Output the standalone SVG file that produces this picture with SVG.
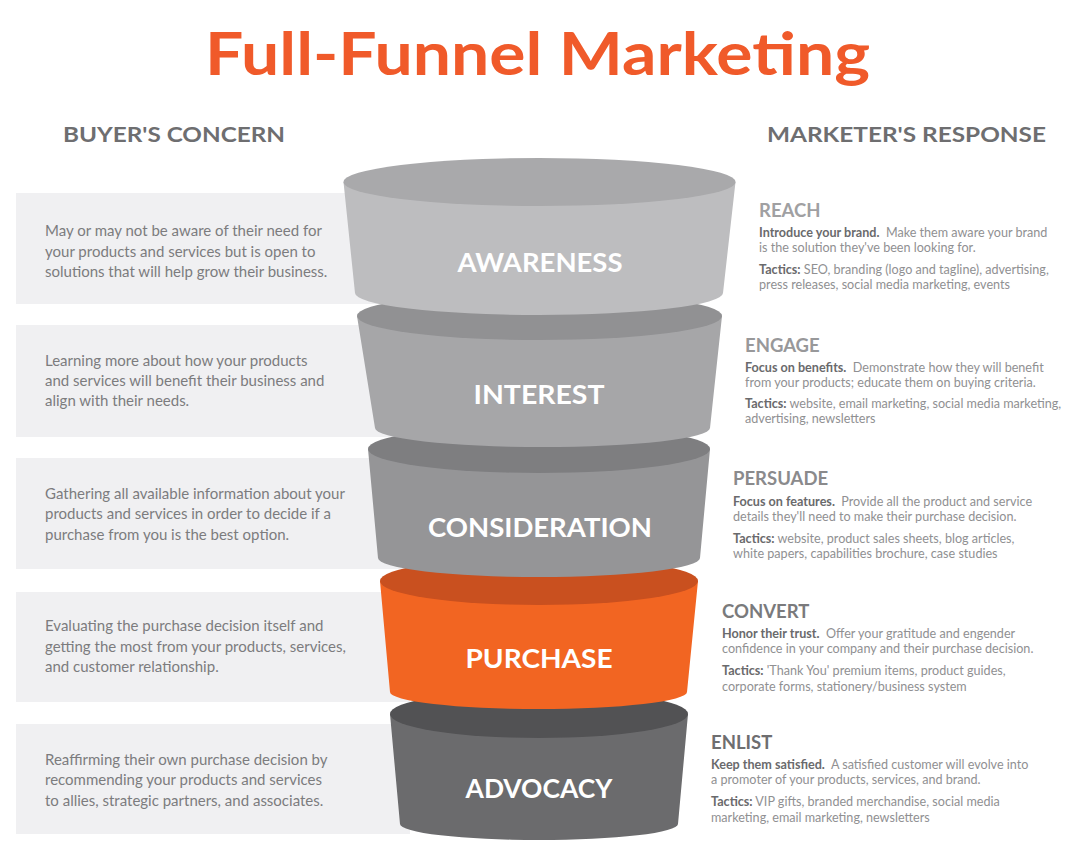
<svg xmlns="http://www.w3.org/2000/svg" width="1080" height="856" viewBox="0 0 1080 856">
<style>
.bg{fill:#ffffff}
.box{fill:#f0f0f2}
.title{font-family:Lato,"Open Sans",sans-serif;font-weight:700;font-size:60px;fill:#f05a2a}
.hdr{font-family:Lato,"Open Sans",sans-serif;font-weight:700;font-size:21px;fill:#6e6e70}
.lt{font-family:Lato,"Open Sans",sans-serif;font-size:15px;fill:#7c7c7e}
.lab{font-family:Lato,"Open Sans",sans-serif;font-weight:700;font-size:26px;fill:#ffffff;text-anchor:middle}
.rh{font-family:Lato,"Open Sans",sans-serif;font-weight:700;font-size:18.5px}
.rt{font-family:Lato,"Open Sans",sans-serif;font-size:12.6px;fill:#909092}
.b{font-weight:700;fill:#6a6a6c}
</style>
<rect class="bg" x="0" y="0" width="1080" height="856"/>
<text class="title" x="205" y="75" textLength="665" lengthAdjust="spacingAndGlyphs">Full-Funnel Marketing</text>
<text class="hdr" x="63" y="142" textLength="222" lengthAdjust="spacingAndGlyphs">BUYER'S CONCERN</text>
<text class="hdr" x="767" y="142" textLength="279" lengthAdjust="spacingAndGlyphs">MARKETER'S RESPONSE</text>

<g id="concern-awareness">
<rect class="box" x="16" y="193" width="394" height="111"/>
<text class="lt" x="45" y="236">May or may not be aware of their need for</text>
<text class="lt" x="45" y="257">your products and services but is open to</text>
<text class="lt" x="45" y="277">solutions that will help grow their business.</text>
</g>
<g id="concern-interest">
<rect class="box" x="16" y="325" width="394" height="112"/>
<text class="lt" x="45" y="366">Learning more about how your products</text>
<text class="lt" x="45" y="386">and services will benefit their business and</text>
<text class="lt" x="45" y="406">align with their needs.</text>
</g>
<g id="concern-consideration">
<rect class="box" x="16" y="458" width="394" height="111"/>
<text class="lt" x="45" y="499">Gathering all available information about your</text>
<text class="lt" x="45" y="519">products and services in order to decide if a</text>
<text class="lt" x="45" y="540">purchase from you is the best option.</text>
</g>
<g id="concern-purchase">
<rect class="box" x="16" y="592" width="394" height="110"/>
<text class="lt" x="45" y="631">Evaluating the purchase decision itself and</text>
<text class="lt" x="45" y="652">getting the most from your products, services,</text>
<text class="lt" x="45" y="672">and customer relationship.</text>
</g>
<g id="concern-advocacy">
<rect class="box" x="16" y="724" width="394" height="110"/>
<text class="lt" x="45" y="765">Reaffirming their own purchase decision by</text>
<text class="lt" x="45" y="785">recommending your products and services</text>
<text class="lt" x="45" y="806">to allies, strategic partners, and associates.</text>
</g>

<g id="connectors"></g>

<g id="funnel-advocacy">
<path d="M390 714 L400 824 A139 16 0 0 0 678 824 L688 714 Z" fill="#6b6b6d"/>
<ellipse cx="539" cy="714" rx="149" ry="24" fill="#525254"/>
<text class="lab" x="539" y="798" textLength="147" lengthAdjust="spacingAndGlyphs">ADVOCACY</text>
</g>
<g id="funnel-purchase">
<path d="M380 581 L390 692 A148.5 17 0 0 0 687 692 L698 581 Z" fill="#f26522"/>
<ellipse cx="539" cy="581" rx="159" ry="24" fill="#c9501f"/>
<text class="lab" x="539" y="668" textLength="147" lengthAdjust="spacingAndGlyphs">PURCHASE</text>
</g>
<g id="funnel-consideration">
<path d="M368 449 L378 558 A161 19 0 0 0 700 558 L710 449 Z" fill="#959597"/>
<ellipse cx="539" cy="449" rx="171" ry="24" fill="#7e7e80"/>
<text class="lab" x="540" y="537" textLength="224" lengthAdjust="spacingAndGlyphs">CONSIDERATION</text>
</g>
<g id="funnel-interest">
<path d="M357 316 L375 428 A167.5 19 0 0 0 710 428 L722 316 Z" fill="#a6a6a8"/>
<ellipse cx="539.5" cy="316" rx="182.5" ry="24" fill="#919193"/>
<text class="lab" x="539" y="404" textLength="131" lengthAdjust="spacingAndGlyphs">INTEREST</text>
</g>
<g id="funnel-awareness">
<path d="M343.5 182 L355 293 A184 22 0 0 0 723 293 L735.5 182 Z" fill="#bdbdbf"/>
<ellipse cx="539.5" cy="182" rx="196" ry="24" fill="#a9a9ab"/>
<text class="lab" x="540" y="272" textLength="165" lengthAdjust="spacingAndGlyphs">AWARENESS</text>
</g>

<g id="response-reach">
<text class="rh" x="759" y="217" fill="#a0a0a2">REACH</text>
<text class="rt" x="759" y="237"><tspan class="b">Introduce your brand.</tspan>&#160; Make them aware your brand</text>
<text class="rt" x="759" y="252">is the solution they've been looking for.</text>
<text class="rt" x="759" y="274"><tspan class="b">Tactics:</tspan> SEO, branding (logo and tagline), advertising,</text>
<text class="rt" x="759" y="289">press releases, social media marketing, events</text>
</g>
<g id="response-engage">
<text class="rh" x="745" y="352" fill="#98989a">ENGAGE</text>
<text class="rt" x="745" y="372"><tspan class="b">Focus on benefits.</tspan>&#160; Demonstrate how they will benefit</text>
<text class="rt" x="745" y="387">from your products; educate them on buying criteria.</text>
<text class="rt" x="745" y="408"><tspan class="b">Tactics:</tspan> website, email marketing, social media marketing,</text>
<text class="rt" x="745" y="423">advertising, newsletters</text>
</g>
<g id="response-persuade">
<text class="rh" x="733" y="485" fill="#8a8a8c">PERSUADE</text>
<text class="rt" x="733" y="506"><tspan class="b">Focus on features.</tspan>&#160; Provide all the product and service</text>
<text class="rt" x="733" y="521">details they'll need to make their purchase decision.</text>
<text class="rt" x="733" y="543"><tspan class="b">Tactics:</tspan> website, product sales sheets, blog articles,</text>
<text class="rt" x="733" y="558">white papers, capabilities brochure, case studies</text>
</g>
<g id="response-convert">
<text class="rh" x="722" y="618" fill="#7a7a7c">CONVERT</text>
<text class="rt" x="722" y="638"><tspan class="b">Honor their trust.</tspan>&#160; Offer your gratitude and engender</text>
<text class="rt" x="722" y="653">confidence in your company and their purchase decision.</text>
<text class="rt" x="722" y="675"><tspan class="b">Tactics:</tspan> 'Thank You' premium items, product guides,</text>
<text class="rt" x="722" y="691">corporate forms, stationery/business system</text>
</g>
<g id="response-enlist">
<text class="rh" x="711" y="749" fill="#6e6e70">ENLIST</text>
<text class="rt" x="711" y="769"><tspan class="b">Keep them satisfied.</tspan>&#160; A satisfied customer will evolve into</text>
<text class="rt" x="711" y="784">a promoter of your products, services, and brand.</text>
<text class="rt" x="711" y="806"><tspan class="b">Tactics:</tspan> VIP gifts, branded merchandise, social media</text>
<text class="rt" x="711" y="822">marketing, email marketing, newsletters</text>
</g>
</svg>
